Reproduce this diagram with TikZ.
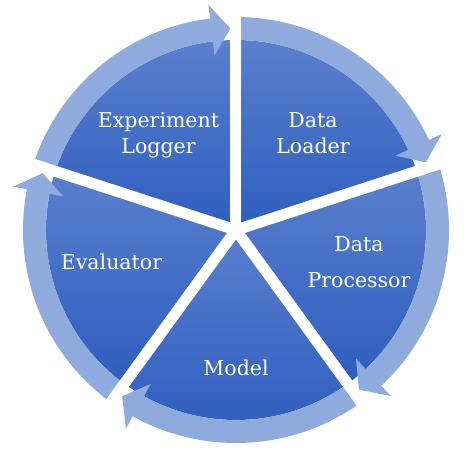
\documentclass[tikz,border=0pt]{standalone}
\usepackage{fontspec}
\setmainfont{DejaVu Serif}
\definecolor{ringblue}{HTML}{8FAADC}
\definecolor{slicetop}{HTML}{5A7FCE}
\definecolor{slicebottom}{HTML}{2E5EBE}
\tikzset{
  slice/.style={top color=slicetop, bottom color=slicebottom, draw=none},
  ringarrow/.style={fill=ringblue, draw=none},
  gapline/.style={draw=white, line width=11pt},
  slicetext/.style={text=white, font=\fontsize{20.5}{26}\selectfont, align=center, inner sep=0pt, anchor=base}
}
\begin{document}
\begin{tikzpicture}[x=1pt,y=1pt]

  \newcommand\Rin{190pt}
  \newcommand\Rout{213pt}

  \useasboundingbox (-236,-221) rectangle (228,230);

  % slices, one gradient each
  \foreach \a in {90,18,-54,-126,-198}{
    \shade[slice] (0,0) -- (\a:\Rin) arc[start angle=\a, end angle=\a-72, radius=\Rin] -- cycle;
  }

  % ring arrows, clockwise
  \foreach \a in {90,18,-54,-126,-198}{
    \pgfmathsetmacro\tipang{\a-72+1.6}
    \pgfmathsetmacro\headang{\a-72+7}
    \fill[ringarrow] (\a:\Rout) arc[start angle=\a, end angle=\headang, radius=\Rout]
      -- (\headang:227pt) -- (\tipang:201.5pt) -- (\headang:176pt)
      -- (\headang:\Rin) arc[start angle=\headang, end angle=\a, radius=\Rin] -- cycle;
  }

  % white gaps between slices
  \foreach \a in {90,18,-54,-126,-198}
    \draw[gapline] (0,0) -- (\a:235pt);

  % base = last line
  \node[slicetext] (loader) at (77,77) {Data\\Loader};
  \node[slicetext] (processor) at (123,-57) {Data\\[10pt]Processor};
  \node[slicetext] (model) at (0,-145) {Model};
  \node[slicetext] (evaluator) at (-124.5,-39) {Evaluator};
  \node[slicetext] (logger) at (-77.5,77) {Experiment\\Logger};

\end{tikzpicture}
\end{document}
